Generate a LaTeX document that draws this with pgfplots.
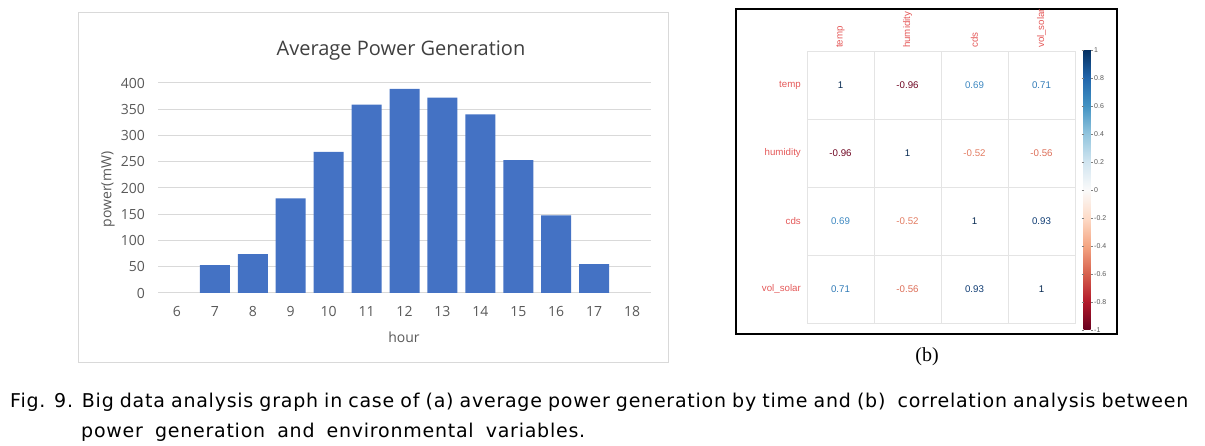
\documentclass[border=0pt]{standalone}
\usepackage{pgfplots}
\pgfplotsset{compat=1.18}
\usepackage{fontspec}
\setmainfont{Liberation Sans}
\newfontfamily\osans{Open Sans}
\newfontfamily\tserif{Liberation Serif}
\newfontfamily\capfont[LetterSpace=4]{DejaVu Sans}
\definecolor{barblue}{HTML}{4472C4}
\definecolor{xlgrid}{HTML}{D9D9D9}
\definecolor{xltext}{HTML}{595959}
\definecolor{xltitle}{HTML}{404040}
\definecolor{lblred}{RGB}{228,88,88}
\definecolor{cgrid}{RGB}{228,228,228}
\definecolor{cOne}{RGB}{5,40,80}
\definecolor{cNnsix}{RGB}{110,5,33}
\definecolor{cNthree}{RGB}{15,60,115}
\definecolor{cSone}{RGB}{48,122,182}
\definecolor{cSnine}{RGB}{60,135,192}
\definecolor{cFtwo}{RGB}{226,124,98}
\definecolor{cFsix}{RGB}{220,110,88}
\begin{document}
\begin{tikzpicture}
\path[use as bounding box] (0pt,0pt) rectangle (1205pt,446pt);
% ---------- (a) bar chart ----------
\draw[xlgrid, line width=1pt] (78pt,83pt) rectangle (668pt,433pt);
\begin{axis}[
  at={(158pt,153pt)}, anchor=south west,
  scale only axis, width=493pt, height=210pt,
  xmin=5.5, xmax=18.5, ymin=0, ymax=400,
  xtick={6,...,18}, ytick={0,50,...,400},
  axis line style={draw=none},
  major tick length=0pt,
  ymajorgrids, grid style={xlgrid, line width=1pt},
  /pgf/number format/assume math mode=true,
  ticklabel style={font=\osans\fontsize{14}{16}\selectfont, text=xltext},
  xticklabel style={anchor=center, inner sep=0pt, yshift=-18.5pt},
  yticklabel style={anchor=east, inner sep=0pt, xshift=-13pt},
  ybar, bar width=30pt,
]
\addplot[fill=barblue, draw=none] coordinates {
  (7,53) (8,74) (9,180) (10,269) (11,359) (12,389)
  (13,372) (14,340) (15,253) (16,148) (17,55)};
\end{axis}
\node[font=\osans\fontsize{20}{24}\selectfont, text=xltitle] at (401pt,395pt) {Average Power Generation};
\node[font=\osans\fontsize{14}{16}\selectfont, text=xltext] at (404pt,109pt) {hour};
\node[font=\osans\fontsize{14}{16}\selectfont, text=xltext, rotate=90] at (108pt,256.5pt) {power(mW)};
% ---------- (b) correlation matrix ----------
\draw[black, line width=1.5pt] (736pt,112pt) rectangle (1117pt,437pt);
\begin{axis}[
  at={(807pt,123pt)}, anchor=south west,
  scale only axis, width=268pt, height=272pt,
  xmin=-0.5, xmax=3.5, ymin=-0.5, ymax=3.5, y dir=reverse,
  xtick={0,1,2,3}, ytick={0,1,2,3},
  xticklabels={temp,humidity,cds,vol\_solar},
  yticklabels={temp,humidity,cds,vol\_solar},
  xticklabel pos=upper,
  minor xtick={0.5,1.5,2.5}, minor ytick={0.5,1.5,2.5},
  xminorgrids, yminorgrids,
  minor grid style={cgrid, line width=0.8pt},
  axis line style={cgrid, line width=0.8pt},
  major tick length=0pt, minor tick length=0pt,
  ticklabel style={font=\fontsize{9.7}{11}\selectfont, text=lblred},
  xticklabel style={yshift=3pt, rotate=90, anchor=west, inner sep=0pt},
  yticklabel style={anchor=east, inner sep=0pt, xshift=-6pt},
  point meta min=-1, point meta max=1,
  colormap={rdbu}{rgb255=(103,0,31) rgb255=(178,24,43) rgb255=(214,96,77)
    rgb255=(244,165,130) rgb255=(253,219,199) rgb255=(250,250,250)
    rgb255=(209,229,240) rgb255=(146,197,222) rgb255=(67,147,195)
    rgb255=(33,102,172) rgb255=(5,48,97)},
  colorbar,
  colorbar style={
    at={(parent axis.north east)}, anchor=north west,
    xshift=0pt, yshift=1pt,
    scale only axis, width=7pt, height=280pt,
    y dir=normal,
    ytick={-1,-0.8,-0.6,-0.4,-0.2,0,0.2,0.4,0.6,0.8,1},
    yticklabels={-1,-0.8,-0.6,-0.4,-0.2,0,0.2,0.4,0.6,0.8,1},
    yticklabel pos=right,
    yticklabel style={font=\fontsize{7}{8}\selectfont, text=black!65, anchor=west, xshift=0pt, inner sep=1.5pt, rotate=0},
    axis line style={draw=none},
    major tick length=2pt, tick align=outside,
    ytick style={draw=gray},
  },
  nodes near coords style={anchor=center, font=\fontsize{9.7}{11}\selectfont},
]
\addplot[draw=none, point meta=explicit symbolic, nodes near coords,
  nodes near coords style={text=cOne}] coordinates {(0,0) [1] (1,1) [1] (2,2) [1] (3,3) [1]};
\addplot[draw=none, point meta=explicit symbolic, nodes near coords,
  nodes near coords style={text=cNnsix}] coordinates {(1,0) [-0.96] (0,1) [-0.96]};
\addplot[draw=none, point meta=explicit symbolic, nodes near coords,
  nodes near coords style={text=cSnine}] coordinates {(2,0) [0.69] (0,2) [0.69]};
\addplot[draw=none, point meta=explicit symbolic, nodes near coords,
  nodes near coords style={text=cSone}] coordinates {(3,0) [0.71] (0,3) [0.71]};
\addplot[draw=none, point meta=explicit symbolic, nodes near coords,
  nodes near coords style={text=cFtwo}] coordinates {(2,1) [-0.52] (1,2) [-0.52]};
\addplot[draw=none, point meta=explicit symbolic, nodes near coords,
  nodes near coords style={text=cFsix}] coordinates {(3,1) [-0.56] (1,3) [-0.56]};
\addplot[draw=none, point meta=explicit symbolic, nodes near coords,
  nodes near coords style={text=cNthree}] coordinates {(3,2) [0.93] (2,3) [0.93]};
\end{axis}
\node[font=\tserif\fontsize{20}{24}\selectfont] at (927pt,89pt) {(b)};
% ---------- caption ----------
\node[anchor=base west, inner sep=0pt, font=\capfont\fontsize{19}{22}\selectfont] at (10pt,38pt)
  {\makebox[1178pt][s]{Fig. 9. Big data analysis graph in case of (a) average power generation by time and (b)\ \ correlation analysis between}};
\node[anchor=base west, inner sep=0pt, font=\capfont\fontsize{19}{22}\selectfont] at (81pt,8pt)
  {\makebox[504pt][s]{power generation and environmental variables.}};
\end{tikzpicture}
\end{document}
